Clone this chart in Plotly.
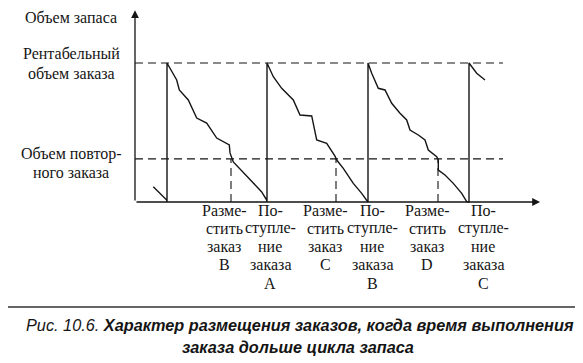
import plotly.graph_objects as go

# ---------------- data ----------------
economic_order_qty = 100          # "Рентабельный объем заказа"
reorder_level = 31                # "Объем повторного заказа"
arrival_times = [3.2, 13.2, 23.3, 33.4]      # Поступление заказа (vertical jumps)
placement_times = [9.6, 20.1, 30.3]          # Разместить заказ (dashed verticals)

# inventory level over time (jagged consumption curves, jumps at arrivals)
inv_t = [1.83, 2.17, 2.33, 2.67, 3.17, 3.2,
         3.2, 4.17, 4.43, 5.33, 6.17, 7.17, 8.17, 9.43, 9.5, 9.83, 10.83, 11.83, 12.67, 13.17, 13.2,
         13.2, 13.83, 14.67, 15.83, 16.5, 17.67, 18.17, 19.17, 19.5, 20.0, 20.17, 20.83, 21.83, 22.67, 23.27, 23.3,
         23.3, 23.67, 24.33, 25.0, 25.67, 26.5, 27.17, 27.5, 28.33, 29.0, 29.33, 30.17, 30.33, 30.33, 31.0, 31.83, 32.67, 33.17, 33.4,
         33.4, 34.17, 34.83, 35.0]
inv_q = [11, 8.6, 7.4, 5, 1.4, 0,
         100, 87.8, 80.6, 73.4, 60.4, 56.8, 46, 41, 35.3, 28.8, 20.9, 13.7, 7.2, 1.4, 0,
         100, 90.1, 81.8, 73.4, 62.6, 61.9, 44.6, 42.2, 38.6, 33, 30.2, 24.2, 13.4, 6.2, 0.2, 0,
         100, 92.6, 81.8, 80.6, 71, 63.8, 59, 51.8, 48.2, 44.6, 37.4, 32.6, 30.2, 23, 19.4, 13.4, 6.2, 0.2, 0,
         100, 92.6, 89, 87.8]

axis_end_t = 40.5
axis_end_q = 138
guide_end_t = 36.8

y_axis_title = "Объем запаса"
eoq_label = "Рентабельный<br>объем заказа"
rop_label = "Объем повтор-<br>ного заказа"
place_labels = ["Разме-<br>стить<br>заказ<br>B", "Разме-<br>стить<br>заказ<br>C", "Разме-<br>стить<br>заказ<br>D"]
arrive_labels = ["По-<br>ступле-<br>ние<br>заказа<br>A", "По-<br>ступле-<br>ние<br>заказа<br>B", "По-<br>ступле-<br>ние<br>заказа<br>C"]
caption_1 = "<i>Рис. 10.6.</i> <b><i>Характер размещения заказов, когда время выполнения</i></b>"
caption_2 = "<b><i>заказа дольше цикла запаса</i></b>"

# ---------------- figure ----------------
INK = "#151515"
SERIF = "Liberation Serif, Times New Roman, serif"
SANS = "Liberation Sans, Arial, sans-serif"
FS = 16
W, H = 575, 355   # page body has an 8px margin; the figure fills the rest of the window

fig = go.Figure()

dash = dict(color=INK, width=1.1, dash="8px,5px")
for lvl in [economic_order_qty, reorder_level]:
    fig.add_trace(go.Scatter(x=[0, guide_end_t], y=[lvl, lvl], mode="lines",
                             line=dash, hoverinfo="skip", showlegend=False))
for t in placement_times:
    fig.add_trace(go.Scatter(x=[t, t], y=[0, reorder_level], mode="lines",
                             line=dash, hoverinfo="skip", showlegend=False))

fig.add_trace(go.Scatter(x=inv_t, y=inv_q, mode="lines",
                         line=dict(color=INK, width=1.4), showlegend=False))

annotations = []
annotations.append(dict(x=0, y=axis_end_q, ax=0, ay=0, xref="x", yref="y", axref="x", ayref="y",
                        showarrow=True, arrowhead=2, arrowsize=1.2, arrowwidth=1.3, arrowcolor=INK, text=""))
annotations.append(dict(x=axis_end_t, y=0, ax=0, ay=0, xref="x", yref="y", axref="x", ayref="y",
                        showarrow=True, arrowhead=2, arrowsize=1.2, arrowwidth=1.3, arrowcolor=INK, text=""))

lab_font = dict(family=SERIF, size=FS, color=INK)


def stacked(x, y, text, first_shift, step):
    for i, line in enumerate(text.split("<br>")):
        annotations.append(dict(x=x, y=y, xref="x", yref="y", text=line, showarrow=False,
                                font=lab_font, xanchor="center", yanchor="middle",
                                yshift=first_shift - step * i))


annotations.append(dict(x=-6.4, y=132.4, xref="x", yref="y", text=y_axis_title, showarrow=False,
                        font=lab_font, xanchor="center", yanchor="middle"))
stacked(-6.4, economic_order_qty, eoq_label, 10, 20)
stacked(-6.4, reorder_level, rop_label, 5, 19)

place_offsets = [-0.7, -1.1, -1.1]
arrive_offsets = [0.3, 0.4, 1.4]
for t, lab, off in zip(placement_times, place_labels, place_offsets):
    stacked(t + off, 0, lab, -8, 18.3)
for t, lab, off in zip(arrival_times[1:], arrive_labels, arrive_offsets):
    stacked(t + off, 0, lab, -8, 18.3)

cap_font = dict(family=SANS, size=16.3, color=INK)
annotations.append(dict(x=292 / W, y=1 - 317 / H, xref="paper", yref="paper", text=caption_1,
                        showarrow=False, font=cap_font, xanchor="center", yanchor="middle"))
annotations.append(dict(x=290 / W, y=1 - 339 / H, xref="paper", yref="paper", text=caption_2,
                        showarrow=False, font=cap_font, xanchor="center", yanchor="middle"))

fig.update_layout(
    width=W, height=H,
    margin=dict(l=0, r=0, t=0, b=0),
    paper_bgcolor="white", plot_bgcolor="white",
    xaxis=dict(range=[-12.7, 44.8], visible=False, fixedrange=True),
    yaxis=dict(range=[-115.83, 139.57], visible=False, fixedrange=True),
    annotations=annotations,
    shapes=[dict(type="line", xref="paper", yref="paper", x0=0, x1=1, y0=1 - 299 / H, y1=1 - 299 / H,
                 line=dict(color="#333", width=1.5))],
    showlegend=False,
)

fig.write_html("out.html")
